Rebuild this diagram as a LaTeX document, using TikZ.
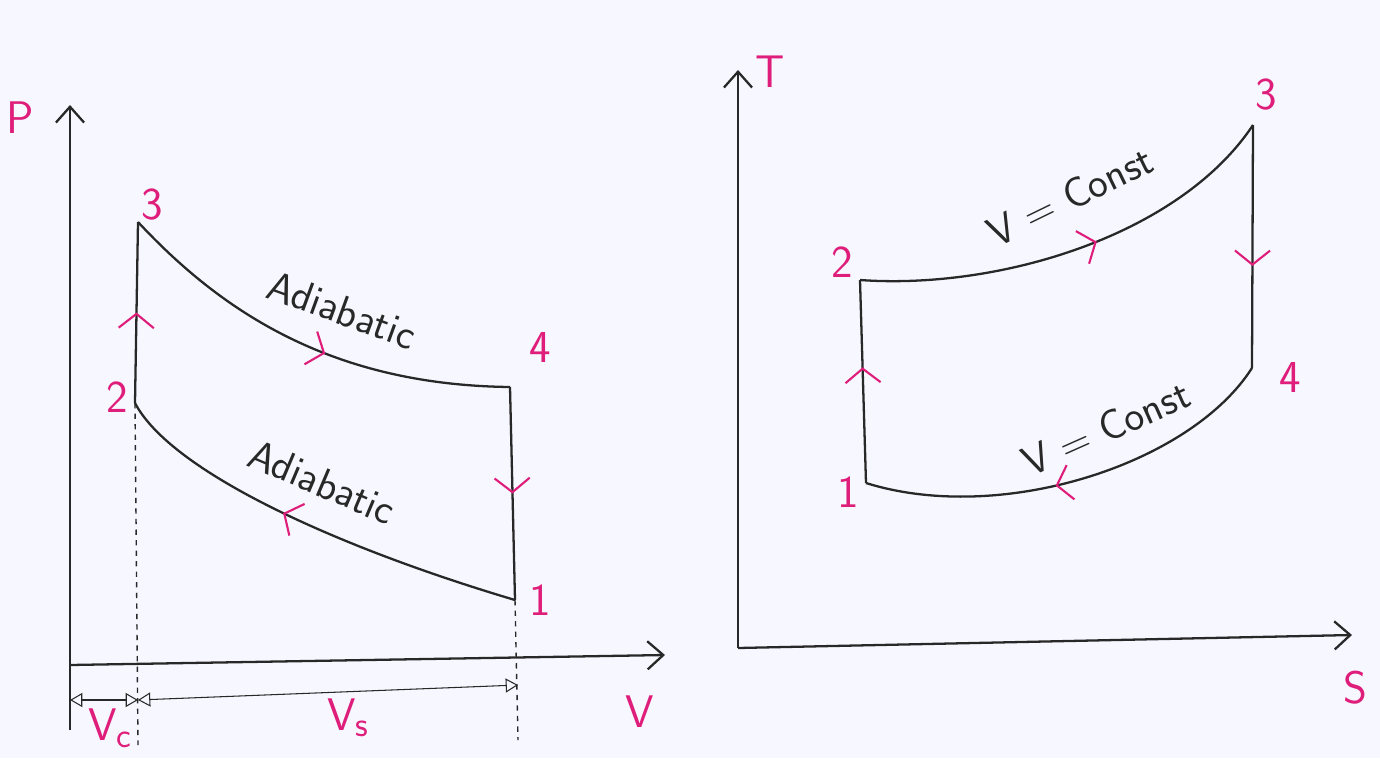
\documentclass[tikz,border=0pt]{standalone}
\usepackage{tikz}
\usetikzlibrary{arrows.meta,calc,positioning,decorations.markings}
\definecolor{inkpink}{RGB}{222,30,122}
\definecolor{inkblack}{RGB}{40,40,40}
\tikzset{
  curve/.style={draw=inkblack,line width=1.3pt},
  axis/.style={draw=inkblack,line width=1.3pt,-{Straight Barb[length=9pt,width=16pt]}},
  lbl/.style={text=inkpink,font=\sffamily\fontsize{26}{30}\selectfont},
  txt/.style={text=inkblack,font=\sffamily\fontsize{24}{28}\selectfont},
  midarrow/.style={postaction={decorate,decoration={markings,
    mark=at position #1 with {\arrow[inkpink,line width=1.2pt]{Straight Barb[length=8pt,width=20pt]}}}}},
  dimline/.style={draw=inkblack,line width=0.6pt,{Triangle[open,length=7pt,width=8pt]}-{Triangle[open,length=7pt,width=8pt]}},
}
\begin{document}
\begin{tikzpicture}[x=0.02cm,y=-0.02cm]
\useasboundingbox (0,0) rectangle (1380,758);
\fill[white!97!blue] (0,0) rectangle (1380,758);

% P-V diagram
\coordinate (O1) at (70,665);
\coordinate (Ptip) at (70,105);
\coordinate (Vtip) at (665,655);
\draw[axis] (O1) -- (Ptip);
\draw[axis] (O1) -- (Vtip);
\node[lbl] (Plbl) at (20,118) {P};
\node[lbl] (Vlbl) at (640,712) {V};

\coordinate (p3) at (138,222);
\coordinate (p2) at (135,403);
\coordinate (p4) at (510,387);
\coordinate (p1) at (515,600);
\draw[curve,midarrow=0.5] (p2) -- (p3);
\draw[curve,midarrow=0.55] (p3) .. controls (220,310) and (330,385) .. (p4);
\draw[curve,midarrow=0.5] (p4) -- (p1);
\draw[curve,midarrow=0.57] (p1) .. controls (330,545) and (170,470) .. (p2);
\node[lbl] (n3) at (152,205) {3};
\node[lbl] (n2) at (117,397) {2};
\node[lbl] (n4) at (540,348) {4};
\node[lbl] (n1) at (540,600) {1};
\node[txt,rotate=-20] (ad1) at (342,310) {Adiabatic};
\node[txt,rotate=-23] (ad2) at (322,482) {Adiabatic};

% volumes
\coordinate (c0) at (70,730);
\coordinate (c1) at (138,745);
\coordinate (c2) at (518,740);
\coordinate (d0) at (70,700);
\coordinate (d1) at (138,700);
\coordinate (d2) at (518,685);
\draw[inkblack,line width=0.6pt] (O1) -- (c0);
\draw[inkblack,line width=0.8pt,dashed] (p2) -- (c1);
\draw[inkblack,line width=0.8pt,dashed] (p1) -- (c2);
\draw[dimline] (d0) -- (d1);
\draw[dimline] (d1) -- (d2);
\node[lbl] (Vc) at (110,728) {V\raisebox{-0.35ex}{\fontsize{20}{24}\selectfont c}};
\node[lbl] (Vs) at (348,718) {V\raisebox{-0.3ex}{\fontsize{20}{24}\selectfont s}};

% T-S diagram
\coordinate (O2) at (738,648);
\coordinate (Ttip) at (738,70);
\coordinate (Stip) at (1352,635);
\draw[axis] (O2) -- (Ttip);
\draw[axis] (O2) -- (Stip);
\node[lbl] (Tlbl) at (770,72) {T};
\node[lbl] (Slbl) at (1355,688) {S};

\coordinate (s2) at (860,280);
\coordinate (s3) at (1253,125);
\coordinate (s4) at (1252,368);
\coordinate (s1) at (866,483);
\draw[curve,midarrow=0.57] (s1) -- (s2);
\draw[curve,midarrow=0.55] (s2) .. controls (1000,290) and (1180,235) .. (s3);
\draw[curve,midarrow=0.58] (s3) -- (s4);
\draw[curve,midarrow=0.55] (s4) .. controls (1190,465) and (1000,525) .. (s1);
\node[lbl] (m2) at (842,262) {2};
\node[lbl] (m3) at (1266,95) {3};
\node[lbl] (m4) at (1290,378) {4};
\node[lbl] (m1) at (848,492) {1};
\node[txt,rotate=26] (vc1) at (1070,196) {V = Const};
\node[txt,rotate=24] (vc2) at (1106,428) {V = Const};
\end{tikzpicture}
\end{document}
